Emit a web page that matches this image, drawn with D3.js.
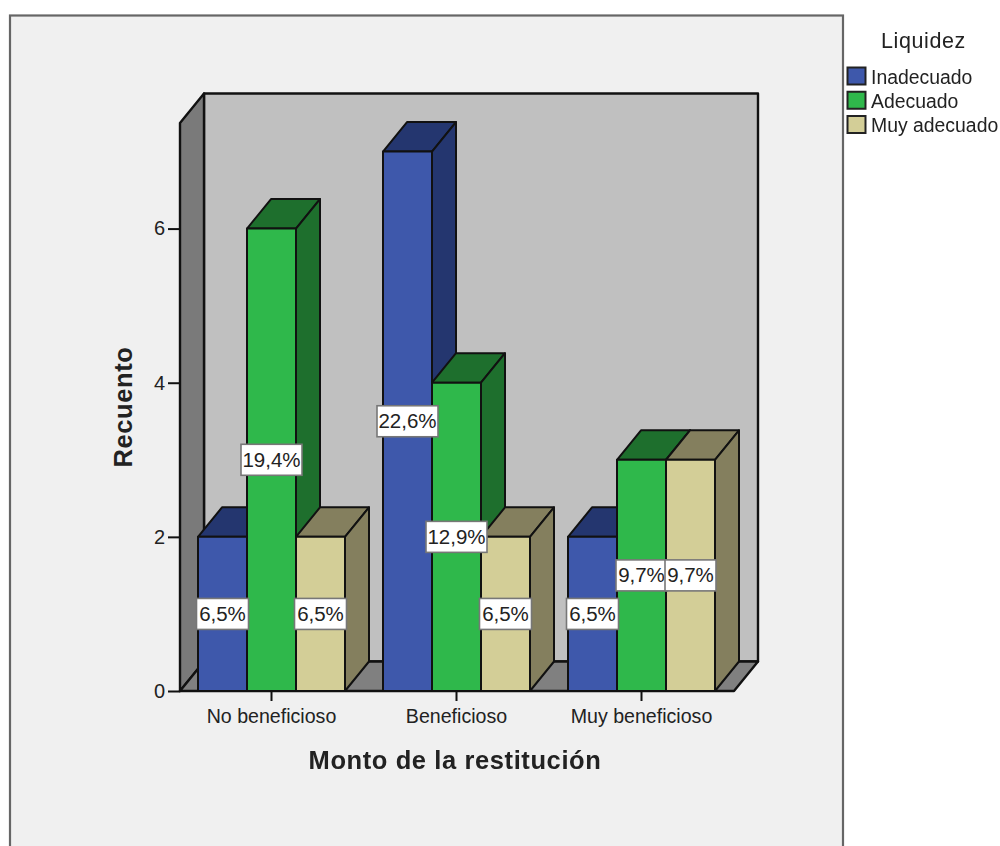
<!DOCTYPE html>
<html><head><meta charset="utf-8">
<script src="https://cdn.jsdelivr.net/npm/d3@7/dist/d3.min.js"></script>
<style>
html,body{margin:0;padding:0;background:#fff;overflow:hidden}
svg{display:block;filter:blur(0.55px)}
text{font-family:"Liberation Sans",Arial,sans-serif;fill:#222}
</style></head><body>
<svg id="c" width="1000" height="846"></svg>
<script>
const categories = ["No beneficioso","Beneficioso","Muy beneficioso"];
const seriesNames = ["Inadecuado","Adecuado","Muy adecuado"];
const inadecuado = [2,7,2];
const adecuado = [6,4,3];
const muyAdecuado = [2,2,3];
const inadecuadoPct = ["6,5%","22,6%","6,5%"];
const adecuadoPct = ["19,4%","12,9%","9,7%"];
const muyAdecuadoPct = ["6,5%","6,5%","9,7%"];
const yTicks = [0,2,4,6];
const frontColors = ["#3e58ab","#2fb84b","#d3ce97"];
const topColors = ["#24366f","#1e6f2d","#847f5e"];

const values = [inadecuado,adecuado,muyAdecuado];
const pcts = [inadecuadoPct,adecuadoPct,muyAdecuadoPct];
const svg = d3.select("#c");
const pLeft=180,pRight=734,pBottom=691,pTop=123,dx=24,dy=-29.5;
const y = d3.scaleLinear().domain([0,7.37]).range([pBottom,pTop]);
const x0 = d3.scaleBand().domain(categories).range([179,734]);
const x1 = d3.scaleBand().domain(seriesNames).range([-73.5,73.5]);
const ink="#111";

// panel
svg.append("rect").attr("x",10).attr("y",15.5).attr("width",833).attr("height",900)
  .attr("fill","#f0f0f0").attr("stroke","#666").attr("stroke-width",2.2);

// walls
const poly=(pts,fill,g=svg,sw=2.4)=>g.append("polygon").attr("points",pts.map(p=>p.join(",")).join(" "))
  .attr("fill",fill).attr("stroke",ink).attr("stroke-width",sw).attr("stroke-linejoin","round");
poly([[pLeft+dx,pTop+dy],[pRight+dx,pTop+dy],[pRight+dx,pBottom+dy],[pLeft+dx,pBottom+dy]],"#c0c0c0");
poly([[pLeft,pTop],[pLeft+dx,pTop+dy],[pLeft+dx,pBottom+dy],[pLeft,pBottom]],"#7a7a7a");
poly([[pLeft,pBottom],[pLeft+dx,pBottom+dy],[pRight+dx,pBottom+dy],[pRight,pBottom]],"#808080");

// bars, painted left to right so nearer-right bars overlap
categories.forEach((c,ci)=>{
  seriesNames.forEach((s,si)=>{
    const xa=x0(c)+x0.bandwidth()/2+x1(s), xb=xa+x1.bandwidth();
    const yv=y(values[si][ci]);
    const g=svg.append("g");
    poly([[xa,yv],[xa+dx,yv+dy],[xb+dx,yv+dy],[xb,yv]],topColors[si],g,2);
    poly([[xb,yv],[xb+dx,yv+dy],[xb+dx,pBottom+dy],[xb,pBottom]],topColors[si],g,2);
    poly([[xa,yv],[xb,yv],[xb,pBottom],[xa,pBottom]],frontColors[si],g,2);
  });
});

// axes
const yAxis=d3.axisLeft(y).tickValues(yTicks).tickFormat(d3.format("d")).tickSize(12).tickPadding(3);
const ya=svg.append("g").attr("transform",`translate(${pLeft},0)`).call(yAxis);
ya.select(".domain").remove();
ya.selectAll("line").attr("stroke",ink).attr("stroke-width",2);
ya.selectAll("text").style("font-size","20px").style("font-family",'"Liberation Sans",Arial,sans-serif').attr("fill","#222");
const xAxis=d3.axisBottom(x0).tickSize(10).tickPadding(8);
const xa=svg.append("g").attr("transform",`translate(0,${pBottom})`).call(xAxis);
xa.select(".domain").remove();
xa.selectAll("line").attr("stroke",ink).attr("stroke-width",2);
xa.selectAll("text").style("font-size","19.6px").style("font-family",'"Liberation Sans",Arial,sans-serif').attr("fill","#222");

// value labels
categories.forEach((c,ci)=>{
  seriesNames.forEach((s,si)=>{
    const cx=x0(c)+x0.bandwidth()/2+x1(s)+x1.bandwidth()/2;
    const cy=y(values[si][ci]/2);
    const t=pcts[si][ci];
    const w=t.length>4?61:(t==="9,7%"?51:52), h=31;
    svg.append("rect").attr("x",cx-w/2).attr("y",cy-h/2).attr("width",w).attr("height",h)
      .attr("fill","#fff").attr("stroke","#777").attr("stroke-width",1.6);
    svg.append("text").attr("x",cx).attr("y",cy+7).attr("text-anchor","middle").style("font-size","20.5px").text(t);
  });
});

// axis titles
svg.append("text").attr("transform","translate(132,407) rotate(-90)").attr("text-anchor","middle")
  .style("font-size","25.5px").style("font-weight","bold").style("letter-spacing","0.6px").text("Recuento");
svg.append("text").attr("x",455).attr("y",769).attr("text-anchor","middle")
  .style("font-size","25.5px").style("font-weight","bold").style("letter-spacing","0.6px").text("Monto de la restitución");

// legend
svg.append("text").attr("x",923.5).attr("y",48).attr("text-anchor","middle")
  .style("font-size","21.5px").style("letter-spacing","0.6px").text("Liquidez");
const legendY=d3.scalePoint().domain(seriesNames).range([76,124.5]);
seriesNames.forEach((s,i)=>{
  svg.append("rect").attr("x",847.5).attr("y",legendY(s)-8.5).attr("width",18).attr("height",17)
    .attr("fill",frontColors[i]).attr("stroke","#222").attr("stroke-width",2);
  svg.append("text").attr("x",871).attr("y",legendY(s)+7.5).style("font-size","19.4px").text(s);
});
</script>
</body></html>
